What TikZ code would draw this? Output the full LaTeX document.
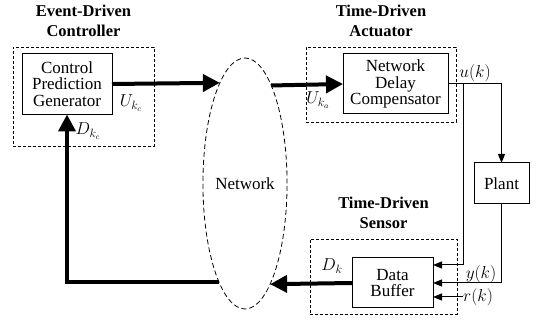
\documentclass[tikz,border=0pt]{standalone}
\usepackage{fontspec}
\setmainfont{Liberation Serif}
\usetikzlibrary{arrows.meta,shapes.geometric}

\tikzset{
  block/.style={draw,line width=1pt,align=center,inner sep=0pt,outer sep=0pt},
  group/.style={draw,line width=0.8pt,dash pattern=on 3pt off 2pt,inner sep=0pt},
  grouptitle/.style={font=\fontsize{16.5}{20}\selectfont\bfseries,align=center,inner sep=0pt},
  bus/.style={line width=4pt,-{Triangle[length=17pt,width=17pt]}},
  wire/.style={line width=1pt,-{Triangle[length=9pt,width=7pt]}},
  sig/.style={font=\fontsize{17}{17}\selectfont,inner sep=0pt},
}

\begin{document}
\begin{tikzpicture}[x=1pt,y=-1pt,font=\fontsize{17}{16.5}\selectfont]
  \useasboundingbox (0,0) rectangle (536,320);
  % dashed groups and their titles
  \node[group,minimum width=141pt,minimum height=99pt] (ctrlbox) at (83.5,96.5) {};
  \node[group,minimum width=150pt,minimum height=75pt] (actbox) at (381,84.5) {};
  \node[group,minimum width=147pt,minimum height=75pt] (sensbox) at (383.5,276.5) {};
  \node[grouptitle,anchor=south] (ctrltitle) at ([yshift=10pt]ctrlbox.north) {Event-Driven\\Controller};
  \node[grouptitle,anchor=south] (acttitle) at ([yshift=10pt]actbox.north) {Time-Driven\\Actuator};
  \node[grouptitle,anchor=south] (senstitle) at ([yshift=10pt]sensbox.north) {Time-Driven\\Sensor};
  % blocks
  \node[block,minimum width=90pt,minimum height=61pt] (gen) at (67,84) {Control\\Prediction\\Generator};
  \node[block,minimum width=105pt,minimum height=60pt] (ndc) at (395.5,84) {Network\\Delay\\Compensator};
  \node[block,minimum width=55pt,minimum height=41pt] (plant) at (501.5,183.5) {Plant};
  \node[block,minimum width=81pt,minimum height=50pt] (buf) at (392.5,283) {Data\\Buffer};
  \node[draw,ellipse,line width=0.8pt,dash pattern=on 5pt off 3pt,minimum width=84pt,minimum height=251pt,inner sep=0pt,outer sep=0pt] (net) at (245,183.5) {Network};
  % network links
  \draw[bus] (gen.east) -- (net.104.4);
  \draw[bus] (net.75.6) -- (ndc.west);
  \draw[bus] (buf.west) -- (net.284.4);
  \draw[bus] (net.255.6) -| (gen.south);
  % plant loop
  \coordinate (tap) at (463,84);
  \draw[wire] (ndc.east) -| (plant.north);
  \draw[wire] (tap) |- ([yshift=18pt]buf.east);
  \draw[wire] (plant.south) |- (buf.east);
  \node[sig,anchor=west] (rk) at (463,297) {$r(k)$};
  \draw[wire] (rk.west) -- (rk.west -| buf.east);
  % labels
  \node[sig] (uk) at (475,73) {$u(k)$};
  \node[sig] (yk) at (481,274) {$y(k)$};
  \node[sig] (ukc) at (131,103) {$U_{k_c}$};
  \node[sig] (dkc) at (88,131) {$D_{k_c}$};
  \node[sig] (uka) at (318,100) {$U_{k_a}$};
  \node[sig] (dk) at (332,266) {$D_k$};
\end{tikzpicture}
\end{document}
